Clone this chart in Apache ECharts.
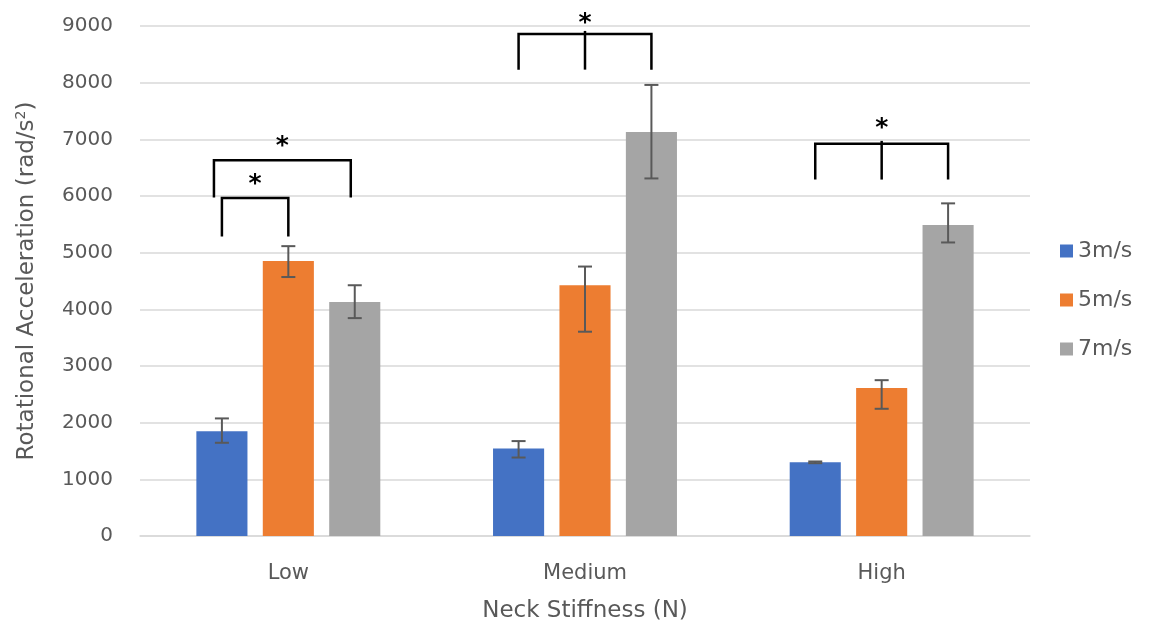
<!DOCTYPE html>
<html>
<head>
<meta charset="utf-8">
<script src="https://cdn.jsdelivr.net/npm/echarts@6/dist/echarts.min.js"></script>
<style>
  html, body { margin: 0; padding: 0; background: #fff; }
  #chart { width: 1149px; height: 635px; }
</style>
</head>
<body>
<div id="chart"></div>
<script>
// categories and series
const categories = ['Low', 'Medium', 'High']
const speeds = ['3m/s', '5m/s', '7m/s']
const v3 = [1850, 1545, 1300]
const v5 = [4855, 4425, 2610]
const v7 = [4130, 7130, 5490]
// error bars (upper / lower)
const e3Plus = [225, 130, 15]
const e3Minus = [205, 160, 15]
const e5Plus = [260, 330, 140]
const e5Minus = [285, 820, 365]
const e7Plus = [295, 830, 380]
const e7Minus = [285, 820, 310]
const yTicks = [0, 9000, 1000] // min, max, step
// significance brackets: [category, fromSlot, toSlot, top, legBottom, middleLeg]
const brackets = [
  [0, -1, 0, 5965, 5285, false],
  [0, -1.12, 0.94, 6630, 5975, false],
  [1, -1, 1, 8860, 8230, true],
  [2, -1, 1, 6920, 6290, true]
]
const starY = [6320, 7000, 9160, 7320]

const colors = ['#4472C4', '#ED7D31', '#A5A5A5']
const catGap = 0.38
const barGap = 0.3

const chart = echarts.init(document.getElementById('chart'))

// width of one bar in px, from the category band width
const barPx = (api) => api.size([1, 0])[0] * (1 - catGap) / (3 + 2 * barGap)

const errRender = (slot) => (params, api) => {
  const cat = api.value(0)
  const top = api.coord([cat, api.value(1) + api.value(2)])
  const bot = api.coord([cat, api.value(1) - api.value(3)])
  const x = top[0] + slot * barPx(api) * (1 + barGap)
  const cap = 7
  const style = { stroke: '#595959', lineWidth: 2 }
  return {
    type: 'group',
    children: [
      { type: 'line', shape: { x1: x, y1: top[1], x2: x, y2: bot[1] }, style },
      { type: 'line', shape: { x1: x - cap, y1: top[1], x2: x + cap, y2: top[1] }, style },
      { type: 'line', shape: { x1: x - cap, y1: bot[1], x2: x + cap, y2: bot[1] }, style }
    ]
  }
}

const errSeries = (vals, plus, minus, slot) => ({
  type: 'custom',
  name: 'err' + slot,
  z: 5,
  renderItem: errRender(slot),
  data: vals.map((v, i) => [i, v, plus[i], minus[i]])
})

const bracketRender = (params, api) => {
  const b = brackets[params.dataIndex]
  const slotPx = barPx(api) * (1 + barGap)
  const c = api.coord([b[0], b[3]])
  const legY = api.coord([b[0], b[4]])[1]
  const x1 = c[0] + b[1] * slotPx
  const x2 = c[0] + b[2] * slotPx
  const style = { stroke: '#000', lineWidth: 2.5, fill: null }
  const children = [
    { type: 'polyline', shape: { points: [[x1, legY], [x1, c[1]], [x2, c[1]], [x2, legY]] }, style }
  ]
  if (b[5]) {
    children.push({ type: 'line', shape: { x1: (x1 + x2) / 2, y1: c[1] - 3, x2: (x1 + x2) / 2, y2: legY }, style })
  }
  const sy = api.coord([b[0], starY[params.dataIndex]])[1]
  children.push({
    type: 'text',
    style: {
      text: '*', x: (x1 + x2) / 2, y: sy + 7,
      fill: '#000', font: 'bold 25px "DejaVu Sans"',
      align: 'center', verticalAlign: 'middle'
    }
  })
  return { type: 'group', children }
}

const option = {
  animation: false,
  textStyle: { fontFamily: 'DejaVu Sans' },
  color: colors,
  grid: { left: 140, right: 119, top: 26, bottom: 99 },
  legend: {
    data: speeds,
    orient: 'vertical',
    left: 1060,
    top: 240,
    padding: 0,
    itemWidth: 13,
    itemHeight: 13,
    itemGap: 27,
    icon: 'rect',
    textStyle: { color: '#595959', fontSize: 22 }
  },
  xAxis: {
    type: 'category',
    data: categories,
    name: 'Neck Stiffness (N)',
    nameLocation: 'middle',
    nameGap: 64,
    nameTextStyle: { color: '#595959', fontSize: 23 },
    axisLine: { lineStyle: { color: '#d9d9d9', width: 1.5 } },
    axisTick: { show: false },
    axisLabel: { color: '#595959', fontSize: 21, margin: 27 }
  },
  yAxis: {
    type: 'value',
    min: yTicks[0],
    max: yTicks[1],
    interval: yTicks[2],
    name: 'Rotational Acceleration (rad/s{sup|2})',
    nameLocation: 'middle',
    nameGap: 100,
    nameTextStyle: {
      color: '#595959', fontSize: 23,
      rich: { sup: { fontSize: 14, verticalAlign: 'top', color: '#595959', padding: [0, 0, 12, 0] } }
    },
    axisLine: { show: false },
    axisTick: { show: false },
    axisLabel: { color: '#595959', fontSize: 20, margin: 27, formatter: (v) => String(v) },
    splitLine: { lineStyle: { color: '#d9d9d9', width: 1.5 } }
  },
  series: [
    { type: 'bar', name: speeds[0], data: v3, barGap: barGap * 100 + '%', barCategoryGap: catGap * 100 + '%' },
    { type: 'bar', name: speeds[1], data: v5, barGap: barGap * 100 + '%', barCategoryGap: catGap * 100 + '%' },
    { type: 'bar', name: speeds[2], data: v7, barGap: barGap * 100 + '%', barCategoryGap: catGap * 100 + '%' },
    errSeries(v3, e3Plus, e3Minus, -1),
    errSeries(v5, e5Plus, e5Minus, 0),
    errSeries(v7, e7Plus, e7Minus, 1),
    {
      type: 'custom',
      name: 'brackets',
      z: 6,
      clip: false,
      renderItem: bracketRender,
      data: brackets.map((b) => [b[0], b[3]])
    }
  ]
}

chart.setOption(option)
</script>
</body>
</html>
